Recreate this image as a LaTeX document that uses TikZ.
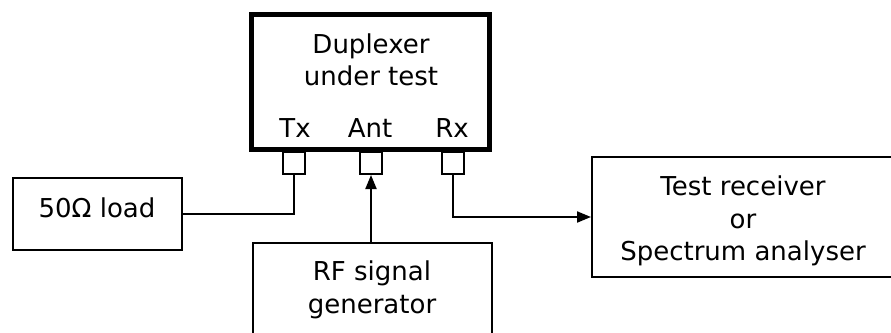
\documentclass[tikz,border=0pt]{standalone}
\usepackage{fontspec}
\setmainfont{DejaVu Sans}
\usetikzlibrary{arrows.meta}
\begin{document}
\begin{tikzpicture}[x=1pt,y=-1pt,
  every node/.style={font=\fontsize{26}{32}\selectfont},
  thinbox/.style={draw, line width=2pt, inner sep=0pt},
  thickbox/.style={draw, line width=4.5pt, inner sep=0pt},
  portbox/.style={draw, line width=2pt, inner sep=0pt, minimum width=22pt, minimum height=22pt},
  lbl/.style={anchor=base, inner sep=0pt},
  wire/.style={line width=2pt},
  arr/.style={line width=2pt, -{Triangle[length=14pt,width=11pt]}}
]
\useasboundingbox (0,0) rectangle (891,332);
\clip (0,0) rectangle (891,332);
\fill[white] (0,0) rectangle (891,332);

% duplexer
\node[thickbox, minimum width=238pt, minimum height=135pt] (dup) at (370.5,82) {};
\node[lbl] (dupA) at (371,53) {Duplexer};
\node[lbl] (dupB) at (371,85) {under test};
\node[lbl] (tx) at (295,137) {Tx};
\node[lbl] (ant) at (370,137) {Ant};
\node[lbl] (rx) at (452,137) {Rx};

% ports
\node[portbox] (txp) at (294,163) {};
\node[portbox] (antp) at (371,163) {};
\node[portbox] (rxp) at (453,163) {};

% load
\node[thinbox, minimum width=169pt, minimum height=72pt] (load) at (97.5,214) {};
\node[lbl] (loadt) at (97,217) {50\symbol{"03A9} load};

% RF generator
\node[thinbox, minimum width=239pt, minimum height=120pt] (rf) at (372.5,303) {};
\node[lbl] (rfA) at (372,280) {RF signal};
\node[lbl] (rfB) at (372,313) {generator};

% test receiver
\node[thinbox, minimum width=313pt, minimum height=120pt] (test) at (748.5,217) {};
\node[lbl] (testA) at (743,195) {Test receiver};
\node[lbl] (testB) at (743,228) {or};
\node[lbl] (testC) at (743,260) {Spectrum analyser};

% connectors
\draw[wire] (txp.south) |- (load.east);
\draw[arr] (antp.south |- rf.north) -- (antp.south);
\draw[arr] (rxp.south) |- (test.west);
\end{tikzpicture}
\end{document}
